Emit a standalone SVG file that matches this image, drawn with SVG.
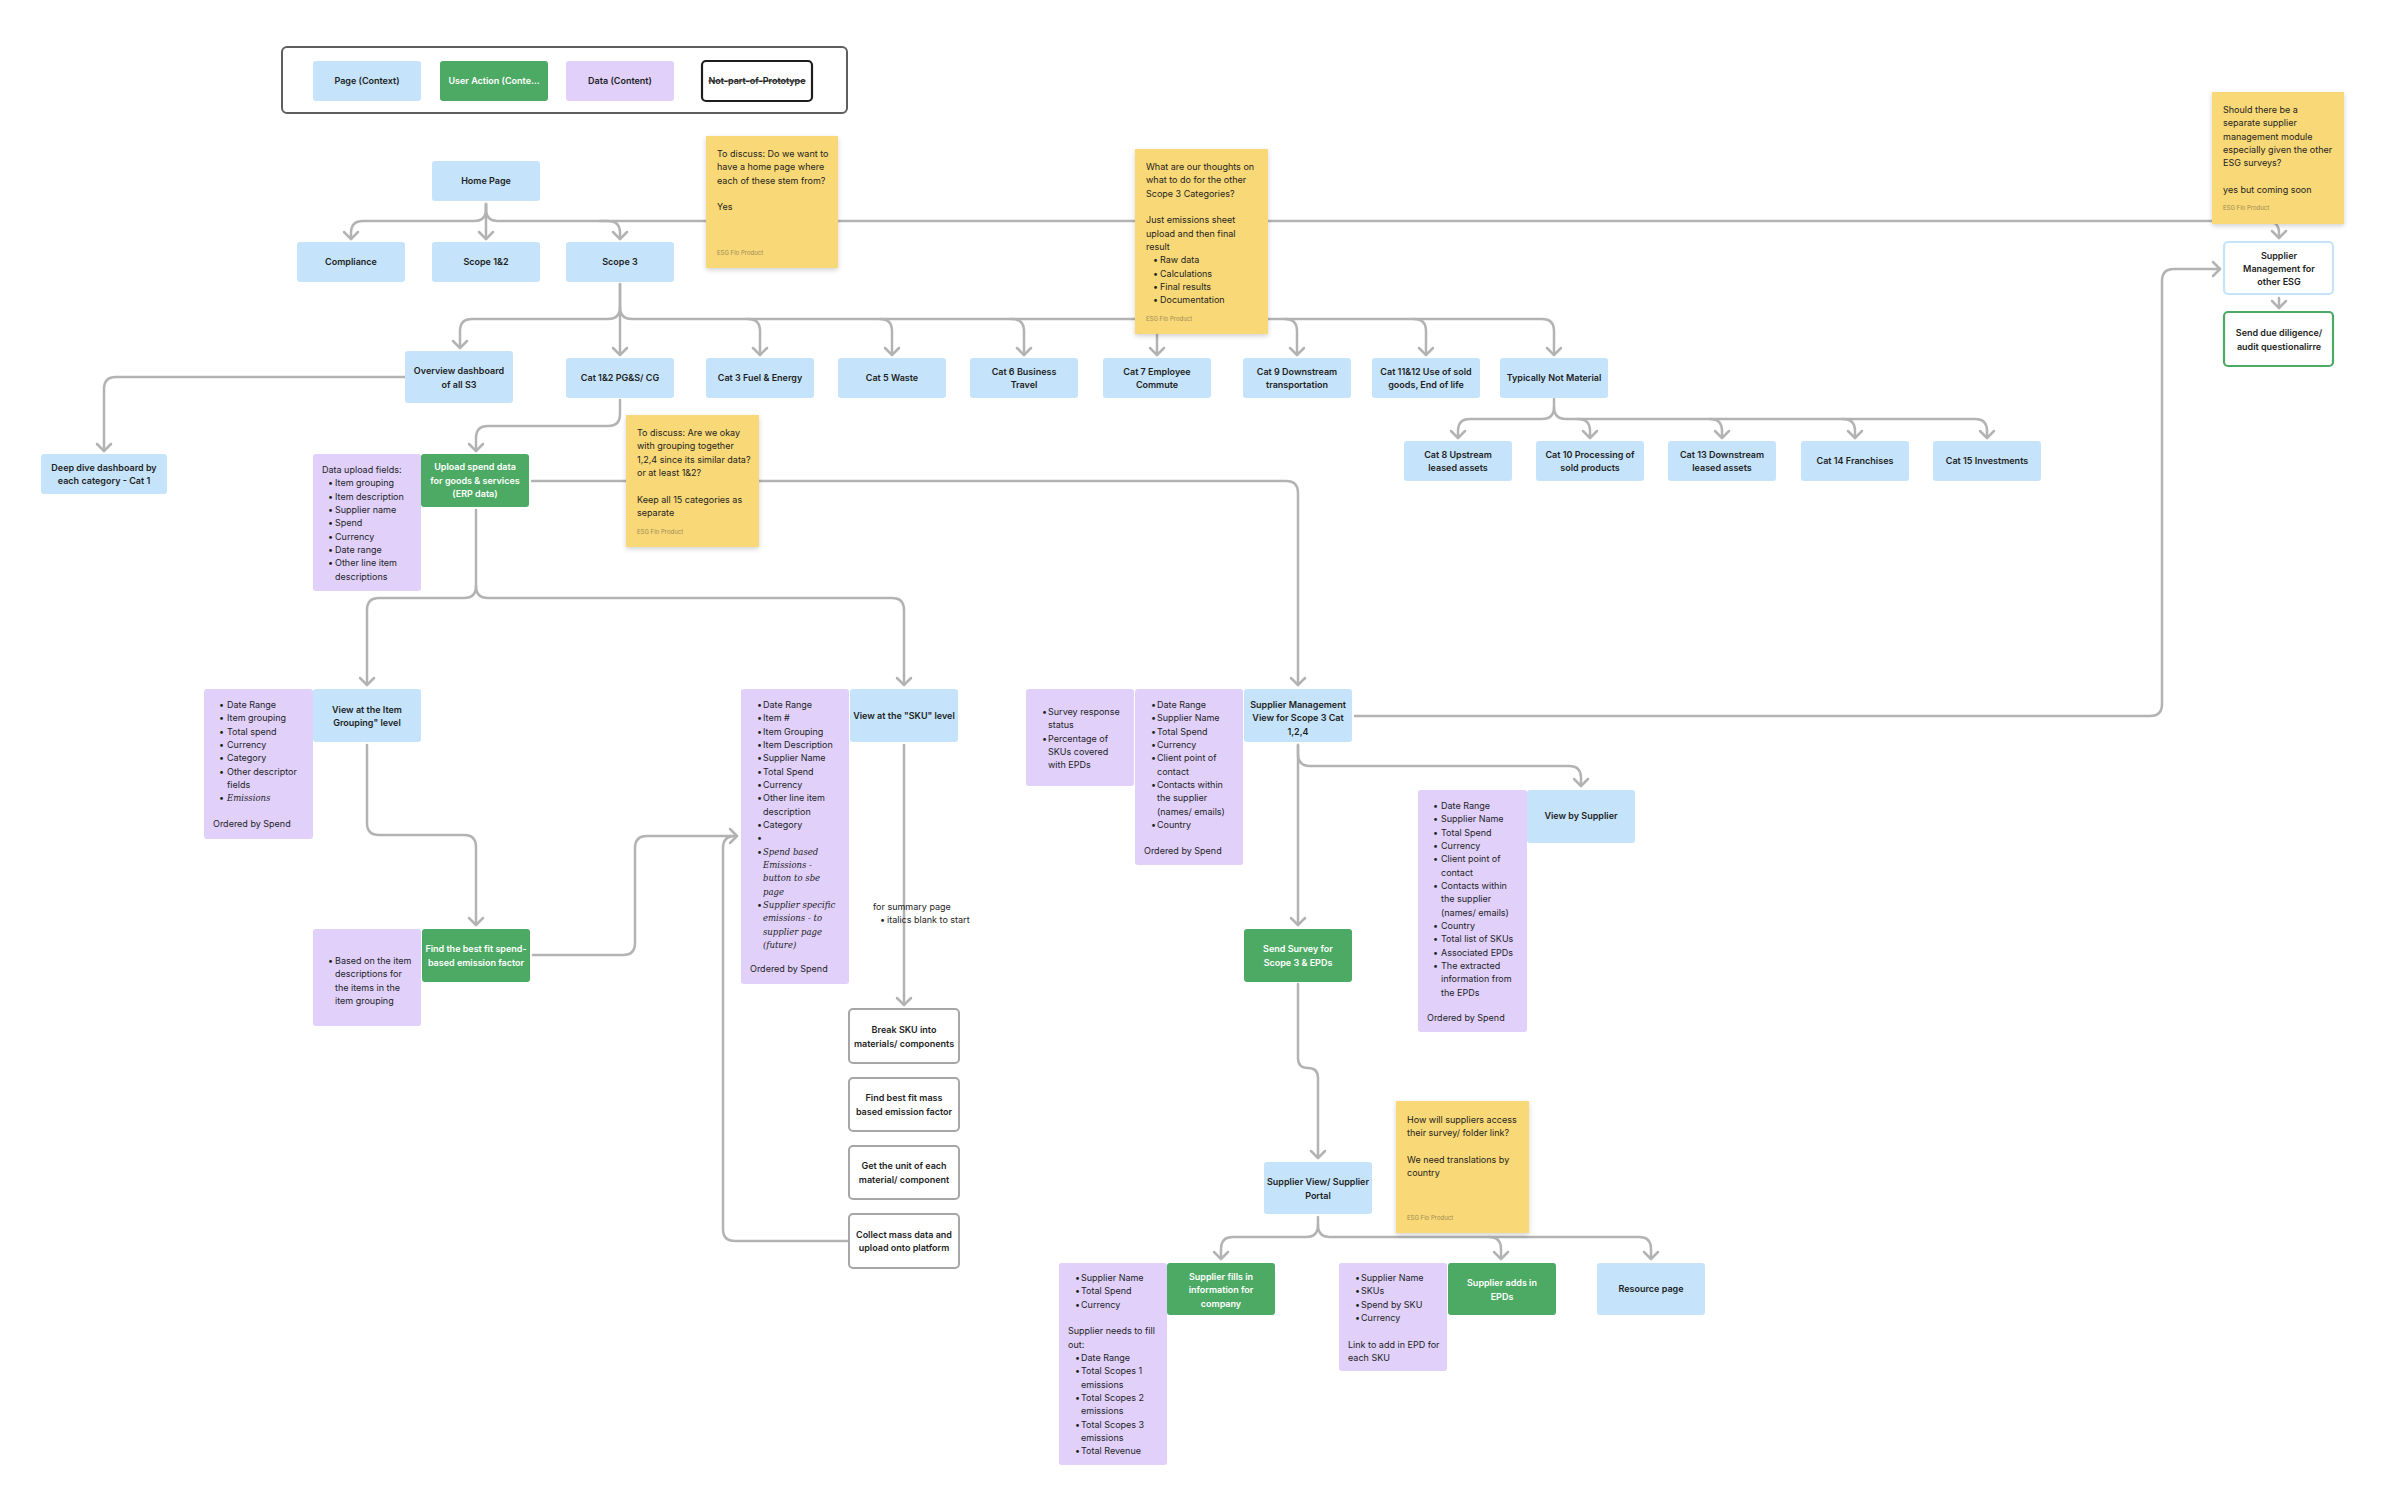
<svg xmlns="http://www.w3.org/2000/svg" width="2392" height="1510" viewBox="0 0 2392 1510">
<defs>
<style>
.blue{fill:#C5E4FB}
.green{fill:#4DAA64}
.purple{fill:#E0D0FA}
.note{fill:#F8D877;filter:url(#sh)}
.wbox{fill:#fff;stroke:#A6A6A6;stroke-width:2}
.cn{fill:none;stroke:#B3B3B3;stroke-width:2.5;stroke-linecap:round;stroke-linejoin:round}
.ar{marker-end:url(#arr)}
text{font-family:Inter,"Liberation Sans",sans-serif;font-size:9px;fill:#1E1E1E}
.c{text-anchor:middle;font-weight:600}
.wt{fill:#fff}
.src{font-size:6px;fill:#A08C55}
.it{font-style:italic;font-family:"DejaVu Serif",serif;font-size:8.5px}
</style>
<marker id="arr" viewBox="-10 -10 20 20" markerWidth="20" markerHeight="20" refX="0" refY="0" orient="auto" markerUnits="userSpaceOnUse">
<path d="M-7,-7 L0,0 L-7,7" fill="none" stroke="#B3B3B3" stroke-width="2.5" stroke-linecap="round" stroke-linejoin="round"/>
</marker>
<filter id="sh" x="-10%" y="-10%" width="125%" height="125%">
<feDropShadow dx="0" dy="2" stdDeviation="2.5" flood-color="#000" flood-opacity="0.18"/>
</filter>
</defs>
<rect width="2392" height="1510" fill="#fff"/>

<g id="legend">
<rect x="282" y="47" width="565" height="66" rx="5" fill="#fff" stroke="#5E5E5E" stroke-width="2"/>
<rect class="blue" x="313" y="61" width="108" height="40" rx="3"/>
<text class="c" x="367" y="84">Page (Context)</text>
<rect class="green" x="440" y="61" width="108" height="40" rx="3"/>
<text class="c wt" x="494" y="84">User Action (Conte…</text>
<rect class="purple" x="566" y="61" width="108" height="40" rx="3"/>
<text class="c" x="620" y="84">Data (Content)</text>
<rect x="702" y="61" width="110" height="40" rx="4" fill="#fff" stroke="#1E1E1E" stroke-width="2.2"/>
<text class="c" x="757" y="84" text-decoration="line-through">Not-part-of-Prototype</text>
</g>

<g id="connectors">
<path class="cn ar" d="M486,204 V209 Q486,221 474,221 H363 Q351,221 351,233 V239"/>
<path class="cn ar" d="M486,204 V239"/>
<path class="cn ar" d="M486,204 V209 Q486,221 498,221 H608 Q620,221 620,233 V239"/>
<path class="cn ar" d="M600,221 H2267 Q2279,221 2279,233 V238"/>
<path class="cn ar" d="M620,284 V307 Q620,319 608,319 H472 Q460,319 460,331 V348"/>
<path class="cn ar" d="M620,284 V355"/>
<path class="cn ar" d="M620,307 Q620,319 632,319 H1542 Q1554,319 1554,331 V355"/>
<path class="cn ar" d="M748,319 Q760,319 760,331 V355"/>
<path class="cn ar" d="M880,319 Q892,319 892,331 V355"/>
<path class="cn ar" d="M1012,319 Q1024,319 1024,331 V355"/>
<path class="cn ar" d="M1145,319 Q1157,319 1157,331 V355"/>
<path class="cn ar" d="M1285,319 Q1297,319 1297,331 V355"/>
<path class="cn ar" d="M1414,319 Q1426,319 1426,331 V355"/>
<path class="cn ar" d="M405,377 H116 Q104,377 104,389 V451"/>
<path class="cn ar" d="M620,400 V414 Q620,426 608,426 H488 Q476,426 476,438 V451"/>
<path class="cn ar" d="M1554,399 V407 Q1554,419 1542,419 H1470 Q1458,419 1458,431 V438"/>
<path class="cn ar" d="M1554,407 Q1554,419 1566,419 H1975 Q1987,419 1987,431 V438"/>
<path class="cn ar" d="M1578,419 Q1590,419 1590,431 V438"/>
<path class="cn ar" d="M1710,419 Q1722,419 1722,431 V438"/>
<path class="cn ar" d="M1843,419 Q1855,419 1855,431 V438"/>
<path class="cn ar" d="M532,481 H1286 Q1298,481 1298,493 V685"/>
<path class="cn ar" d="M476,510 V586 Q476,598 464,598 H379 Q367,598 367,610 V685"/>
<path class="cn ar" d="M476,586 Q476,598 488,598 H892 Q904,598 904,610 V685"/>
<path class="cn ar" d="M367,745 V823 Q367,835 379,835 H464 Q476,835 476,847 V925"/>
<path class="cn" d="M849,1241 H735 Q723,1241 723,1229 V848 Q723,836 735,836"/>
<path class="cn ar" d="M533,955 H623 Q635,955 635,943 V848 Q635,836 647,836 H737"/>
<path class="cn ar" d="M904,745 V1005"/>
<path class="cn ar" d="M1298,745 V754 Q1298,766 1310,766 H1569 Q1581,766 1581,778 V786"/>
<path class="cn ar" d="M1298,745 V925"/>
<path class="cn ar" d="M1355,716 H2150 Q2162,716 2162,704 V281 Q2162,269 2174,269 H2220"/>
<path class="cn ar" d="M1298,984 V1058 Q1298,1068 1308,1068 Q1318,1068 1318,1078 V1158"/>
<path class="cn ar" d="M1318,1217 V1225 Q1318,1237 1306,1237 H1233 Q1221,1237 1221,1249 V1259"/>
<path class="cn ar" d="M1318,1225 Q1318,1237 1330,1237 H1639 Q1651,1237 1651,1249 V1259"/>
<path class="cn ar" d="M1489,1237 Q1501,1237 1501,1249 V1259"/>
<path class="cn ar" d="M2279,298 V308"/>
</g>

<g id="home"><rect class="blue" x="432" y="161" width="108" height="40" rx="3"/><text class="c" x="486" y="184">Home Page</text></g>
<g id="compliance"><rect class="blue" x="297" y="242" width="108" height="40" rx="3"/><text class="c" x="351" y="265">Compliance</text></g>
<g id="scope12"><rect class="blue" x="432" y="242" width="108" height="40" rx="3"/><text class="c" x="486" y="265">Scope 1&amp;2</text></g>
<g id="scope3"><rect class="blue" x="566" y="242" width="108" height="40" rx="3"/><text class="c" x="620" y="265">Scope 3</text></g>

<g id="overview"><rect class="blue" x="405" y="351" width="108" height="52" rx="3"/><text class="c" x="459" y="374">Overview dashboard</text><text class="c" x="459" y="387.5">of all S3</text></g>
<g id="cat12"><rect class="blue" x="566" y="358" width="108" height="40" rx="3"/><text class="c" x="620" y="381">Cat 1&amp;2 PG&amp;S/ CG</text></g>
<g id="cat3"><rect class="blue" x="706" y="358" width="108" height="40" rx="3"/><text class="c" x="760" y="381">Cat 3 Fuel &amp; Energy</text></g>
<g id="cat5"><rect class="blue" x="838" y="358" width="108" height="40" rx="3"/><text class="c" x="892" y="381">Cat 5 Waste</text></g>
<g id="cat6"><rect class="blue" x="970" y="358" width="108" height="40" rx="3"/><text class="c" x="1024" y="374.5">Cat 6 Business</text><text class="c" x="1024" y="388">Travel</text></g>
<g id="cat7"><rect class="blue" x="1103" y="358" width="108" height="40" rx="3"/><text class="c" x="1157" y="374.5">Cat 7 Employee</text><text class="c" x="1157" y="388">Commute</text></g>
<g id="cat9"><rect class="blue" x="1243" y="358" width="108" height="40" rx="3"/><text class="c" x="1297" y="374.5">Cat 9 Downstream</text><text class="c" x="1297" y="388">transportation</text></g>
<g id="cat1112"><rect class="blue" x="1372" y="358" width="108" height="40" rx="3"/><text class="c" x="1426" y="374.5">Cat 11&amp;12 Use of sold</text><text class="c" x="1426" y="388">goods, End of life</text></g>
<g id="notmaterial"><rect class="blue" x="1500" y="358" width="108" height="40" rx="3"/><text class="c" x="1554" y="381">Typically Not Material</text></g>

<g id="cat8"><rect class="blue" x="1404" y="441" width="108" height="40" rx="3"/><text class="c" x="1458" y="457.5">Cat 8 Upstream</text><text class="c" x="1458" y="471">leased assets</text></g>
<g id="cat10"><rect class="blue" x="1536" y="441" width="108" height="40" rx="3"/><text class="c" x="1590" y="457.5">Cat 10 Processing of</text><text class="c" x="1590" y="471">sold products</text></g>
<g id="cat13"><rect class="blue" x="1668" y="441" width="108" height="40" rx="3"/><text class="c" x="1722" y="457.5">Cat 13 Downstream</text><text class="c" x="1722" y="471">leased assets</text></g>
<g id="cat14"><rect class="blue" x="1801" y="441" width="108" height="40" rx="3"/><text class="c" x="1855" y="464">Cat 14 Franchises</text></g>
<g id="cat15"><rect class="blue" x="1933" y="441" width="108" height="40" rx="3"/><text class="c" x="1987" y="464">Cat 15 Investments</text></g>

<g id="deepdive"><rect class="blue" x="41" y="454" width="126" height="40" rx="3"/><text class="c" x="104" y="470.5">Deep dive dashboard by</text><text class="c" x="104" y="484">each category - Cat 1</text></g>

<g id="uploadfields"><rect class="purple" x="313" y="454" width="108" height="137" rx="3"/>
<text x="322" y="473">Data upload fields:</text>
<text x="328" y="486.3">•</text><text x="335" y="486.3">Item grouping</text>
<text x="328" y="499.7">•</text><text x="335" y="499.7">Item description</text>
<text x="328" y="513">•</text><text x="335" y="513">Supplier name</text>
<text x="328" y="526.3">•</text><text x="335" y="526.3">Spend</text>
<text x="328" y="539.7">•</text><text x="335" y="539.7">Currency</text>
<text x="328" y="553">•</text><text x="335" y="553">Date range</text>
<text x="328" y="566.3">•</text><text x="335" y="566.3">Other line item</text>
<text x="335" y="579.7">descriptions</text>
</g>
<g id="upload"><rect class="green" x="421" y="454" width="108" height="53" rx="3"/><text class="c wt" x="475" y="470">Upload spend data</text><text class="c wt" x="475" y="483.5">for goods &amp; services</text><text class="c wt" x="475" y="497">(ERP data)</text></g>

<g id="itemlist"><rect class="purple" x="204" y="689" width="109" height="150" rx="3"/>
<text x="219" y="708">•</text><text x="227" y="708">Date Range</text>
<text x="219" y="721.3">•</text><text x="227" y="721.3">Item grouping</text>
<text x="219" y="734.7">•</text><text x="227" y="734.7">Total spend</text>
<text x="219" y="748">•</text><text x="227" y="748">Currency</text>
<text x="219" y="761.3">•</text><text x="227" y="761.3">Category</text>
<text x="219" y="774.7">•</text><text x="227" y="774.7">Other descriptor</text>
<text x="227" y="788">fields</text>
<text x="219" y="801.3">•</text><text class="it" x="227" y="801.3">Emissions</text>
<text x="213" y="827">Ordered by Spend</text>
</g>
<g id="viewitem"><rect class="blue" x="313" y="689" width="108" height="53" rx="3"/><text class="c" x="367" y="712.5">View at the Item</text><text class="c" x="367" y="726">Grouping" level</text></g>

<g id="basedon"><rect class="purple" x="313" y="929" width="108" height="97" rx="3"/>
<text x="328" y="964">•</text><text x="335" y="964">Based on the item</text>
<text x="335" y="977.3">descriptions for</text>
<text x="335" y="990.7">the items in the</text>
<text x="335" y="1004">item grouping</text>
</g>
<g id="findspend"><rect class="green" x="422" y="929" width="108" height="53" rx="3"/><text class="c wt" x="476" y="952">Find the best fit spend-</text><text class="c wt" x="476" y="965.5">based emission factor</text></g>

<g id="skulist"><rect class="purple" x="741" y="689" width="108" height="295" rx="3"/>
<text x="757" y="708">•</text><text x="763" y="708">Date Range</text>
<text x="757" y="721.3">•</text><text x="763" y="721.3">Item #</text>
<text x="757" y="734.7">•</text><text x="763" y="734.7">Item Grouping</text>
<text x="757" y="748">•</text><text x="763" y="748">Item Description</text>
<text x="757" y="761.3">•</text><text x="763" y="761.3">Supplier Name</text>
<text x="757" y="774.7">•</text><text x="763" y="774.7">Total Spend</text>
<text x="757" y="788">•</text><text x="763" y="788">Currency</text>
<text x="757" y="801.3">•</text><text x="763" y="801.3">Other line item</text>
<text x="763" y="814.7">description</text>
<text x="757" y="828">•</text><text x="763" y="828">Category</text>
<text x="757" y="841.3">•</text>
<text x="757" y="854.7">•</text><text class="it" x="763" y="854.7">Spend based</text>
<text class="it" x="763" y="868">Emissions -</text>
<text class="it" x="763" y="881.3">button to sbe</text>
<text class="it" x="763" y="894.7">page</text>
<text x="757" y="908">•</text><text class="it" x="763" y="908">Supplier specific</text>
<text class="it" x="763" y="921.3">emissions - to</text>
<text class="it" x="763" y="934.7">supplier page</text>
<text class="it" x="763" y="948">(future)</text>
<text x="750" y="972">Ordered by Spend</text>
</g>
<g id="viewsku"><rect class="blue" x="850" y="689" width="108" height="53" rx="3"/><text class="c" x="904" y="719">View at the "SKU" level</text></g>

<g id="summarynote">
<text x="873" y="910">for summary page</text>
<text x="880" y="923">•</text><text x="887" y="923">italics blank to start</text>
</g>

<g id="breaksku"><rect class="wbox" x="849" y="1009" width="110" height="54" rx="4"/><text class="c" x="904" y="1033">Break SKU into</text><text class="c" x="904" y="1046.5">materials/ components</text></g>
<g id="findmass"><rect class="wbox" x="849" y="1078" width="110" height="53" rx="4"/><text class="c" x="904" y="1101">Find best fit mass</text><text class="c" x="904" y="1114.5">based emission factor</text></g>
<g id="getunit"><rect class="wbox" x="849" y="1146" width="110" height="53" rx="4"/><text class="c" x="904" y="1169">Get the unit of each</text><text class="c" x="904" y="1182.5">material/ component</text></g>
<g id="collectmass"><rect class="wbox" x="849" y="1214" width="110" height="54" rx="4"/><text class="c" x="904" y="1237.5">Collect mass data and</text><text class="c" x="904" y="1251">upload onto platform</text></g>

<g id="surveylist"><rect class="purple" x="1026" y="689" width="108" height="97" rx="3"/>
<text x="1042" y="715">•</text><text x="1048" y="715">Survey response</text>
<text x="1048" y="728.3">status</text>
<text x="1042" y="741.7">•</text><text x="1048" y="741.7">Percentage of</text>
<text x="1048" y="755">SKUs covered</text>
<text x="1048" y="768.3">with EPDs</text>
</g>
<g id="supplierlist"><rect class="purple" x="1135" y="689" width="108" height="176" rx="3"/>
<text x="1151" y="708">•</text><text x="1157" y="708">Date Range</text>
<text x="1151" y="721.3">•</text><text x="1157" y="721.3">Supplier Name</text>
<text x="1151" y="734.7">•</text><text x="1157" y="734.7">Total Spend</text>
<text x="1151" y="748">•</text><text x="1157" y="748">Currency</text>
<text x="1151" y="761.3">•</text><text x="1157" y="761.3">Client point of</text>
<text x="1157" y="774.7">contact</text>
<text x="1151" y="788">•</text><text x="1157" y="788">Contacts within</text>
<text x="1157" y="801.3">the supplier</text>
<text x="1157" y="814.7">(names/ emails)</text>
<text x="1151" y="828">•</text><text x="1157" y="828">Country</text>
<text x="1144" y="854">Ordered by Spend</text>
</g>
<g id="smview"><rect class="blue" x="1244" y="689" width="108" height="53" rx="3"/><text class="c" x="1298" y="708">Supplier Management</text><text class="c" x="1298" y="721.3">View for Scope 3 Cat</text><text class="c" x="1298" y="734.7">1,2,4</text></g>

<g id="vbslist"><rect class="purple" x="1418" y="790" width="109" height="242" rx="3"/>
<text x="1433" y="809">•</text><text x="1441" y="809">Date Range</text>
<text x="1433" y="822.3">•</text><text x="1441" y="822.3">Supplier Name</text>
<text x="1433" y="835.7">•</text><text x="1441" y="835.7">Total Spend</text>
<text x="1433" y="849">•</text><text x="1441" y="849">Currency</text>
<text x="1433" y="862.3">•</text><text x="1441" y="862.3">Client point of</text>
<text x="1441" y="875.7">contact</text>
<text x="1433" y="889">•</text><text x="1441" y="889">Contacts within</text>
<text x="1441" y="902.3">the supplier</text>
<text x="1441" y="915.7">(names/ emails)</text>
<text x="1433" y="929">•</text><text x="1441" y="929">Country</text>
<text x="1433" y="942.3">•</text><text x="1441" y="942.3">Total list of SKUs</text>
<text x="1433" y="955.7">•</text><text x="1441" y="955.7">Associated EPDs</text>
<text x="1433" y="969">•</text><text x="1441" y="969">The extracted</text>
<text x="1441" y="982.3">information from</text>
<text x="1441" y="995.7">the EPDs</text>
<text x="1427" y="1021">Ordered by Spend</text>
</g>
<g id="viewbysupplier"><rect class="blue" x="1527" y="790" width="108" height="53" rx="3"/><text class="c" x="1581" y="819">View by Supplier</text></g>

<g id="sendsurvey"><rect class="green" x="1244" y="929" width="108" height="53" rx="3"/><text class="c wt" x="1298" y="952">Send Survey for</text><text class="c wt" x="1298" y="965.5">Scope 3 &amp; EPDs</text></g>
<g id="supplierview"><rect class="blue" x="1264" y="1162" width="108" height="52" rx="3"/><text class="c" x="1318" y="1185">Supplier View/ Supplier</text><text class="c" x="1318" y="1198.5">Portal</text></g>

<g id="filllist"><rect class="purple" x="1059" y="1263" width="108" height="202" rx="3"/>
<text x="1075" y="1281">•</text><text x="1081" y="1281">Supplier Name</text>
<text x="1075" y="1294.3">•</text><text x="1081" y="1294.3">Total Spend</text>
<text x="1075" y="1307.7">•</text><text x="1081" y="1307.7">Currency</text>
<text x="1068" y="1334.3">Supplier needs to fill</text>
<text x="1068" y="1347.7">out:</text>
<text x="1075" y="1361">•</text><text x="1081" y="1361">Date Range</text>
<text x="1075" y="1374.3">•</text><text x="1081" y="1374.3">Total Scopes 1</text>
<text x="1081" y="1387.7">emissions</text>
<text x="1075" y="1401">•</text><text x="1081" y="1401">Total Scopes 2</text>
<text x="1081" y="1414.3">emissions</text>
<text x="1075" y="1427.7">•</text><text x="1081" y="1427.7">Total Scopes 3</text>
<text x="1081" y="1441">emissions</text>
<text x="1075" y="1454.3">•</text><text x="1081" y="1454.3">Total Revenue</text>
</g>
<g id="supplierfills"><rect class="green" x="1167" y="1263" width="108" height="52" rx="3"/><text class="c wt" x="1221" y="1280">Supplier fills in</text><text class="c wt" x="1221" y="1293.3">information for</text><text class="c wt" x="1221" y="1306.7">company</text></g>

<g id="epdlist"><rect class="purple" x="1339" y="1263" width="108" height="108" rx="3"/>
<text x="1355" y="1281">•</text><text x="1361" y="1281">Supplier Name</text>
<text x="1355" y="1294.3">•</text><text x="1361" y="1294.3">SKUs</text>
<text x="1355" y="1307.7">•</text><text x="1361" y="1307.7">Spend by SKU</text>
<text x="1355" y="1321">•</text><text x="1361" y="1321">Currency</text>
<text x="1348" y="1347.7">Link to add in EPD for</text>
<text x="1348" y="1361">each SKU</text>
</g>
<g id="supplieradds"><rect class="green" x="1448" y="1263" width="108" height="52" rx="3"/><text class="c wt" x="1502" y="1286">Supplier adds in</text><text class="c wt" x="1502" y="1299.5">EPDs</text></g>
<g id="resource"><rect class="blue" x="1597" y="1263" width="108" height="52" rx="3"/><text class="c" x="1651" y="1292">Resource page</text></g>

<g id="smotheresg"><rect x="2224" y="242" width="109" height="52" rx="4" fill="#fff" stroke="#C5E4FB" stroke-width="2.2"/><text class="c" x="2279" y="258.7">Supplier</text><text class="c" x="2279" y="272">Management for</text><text class="c" x="2279" y="285.3">other ESG</text></g>
<g id="duediligence"><rect x="2224" y="312" width="109" height="54" rx="4" fill="#fff" stroke="#4DAA64" stroke-width="2.2"/><text class="c" x="2279" y="336">Send due diligence/</text><text class="c" x="2279" y="349.5">audit questionalirre</text></g>

<g id="note1"><rect class="note" x="706" y="136" width="132" height="132"/>
<text x="717" y="157">To discuss: Do we want to</text>
<text x="717" y="170.3">have a home page where</text>
<text x="717" y="183.7">each of these stem from?</text>
<text x="717" y="210.3">Yes</text>
<text class="src" x="717" y="255">ESG Flo Product</text>
</g>
<g id="note2"><rect class="note" x="1135" y="149" width="133" height="185"/>
<text x="1146" y="170">What are our thoughts on</text>
<text x="1146" y="183.3">what to do for the other</text>
<text x="1146" y="196.7">Scope 3 Categories?</text>
<text x="1146" y="223.3">Just emissions sheet</text>
<text x="1146" y="236.7">upload and then final</text>
<text x="1146" y="250">result</text>
<text x="1153" y="263.3">•</text><text x="1160" y="263.3">Raw data</text>
<text x="1153" y="276.7">•</text><text x="1160" y="276.7">Calculations</text>
<text x="1153" y="290">•</text><text x="1160" y="290">Final results</text>
<text x="1153" y="303.3">•</text><text x="1160" y="303.3">Documentation</text>
<text class="src" x="1146" y="321">ESG Flo Product</text>
</g>
<g id="note3"><rect class="note" x="2212" y="92" width="132" height="132"/>
<text x="2223" y="113">Should there be a</text>
<text x="2223" y="126.3">separate supplier</text>
<text x="2223" y="139.7">management module</text>
<text x="2223" y="153">especially given the other</text>
<text x="2223" y="166.3">ESG surveys?</text>
<text x="2223" y="193">yes but coming soon</text>
<text class="src" x="2223" y="210">ESG Flo Product</text>
</g>
<g id="note4"><rect class="note" x="626" y="415" width="133" height="132"/>
<text x="637" y="436">To discuss: Are we okay</text>
<text x="637" y="449.3">with grouping together</text>
<text x="637" y="462.7">1,2,4 since its similar data?</text>
<text x="637" y="476">or at least 1&amp;2?</text>
<text x="637" y="502.7">Keep all 15 categories as</text>
<text x="637" y="516">separate</text>
<text class="src" x="637" y="534">ESG Flo Product</text>
</g>
<g id="note5"><rect class="note" x="1396" y="1101" width="133" height="132"/>
<text x="1407" y="1123">How will suppliers access</text>
<text x="1407" y="1136.3">their survey/ folder link?</text>
<text x="1407" y="1163">We need translations by</text>
<text x="1407" y="1176.3">country</text>
<text class="src" x="1407" y="1220">ESG Flo Product</text>
</g>
</svg>
